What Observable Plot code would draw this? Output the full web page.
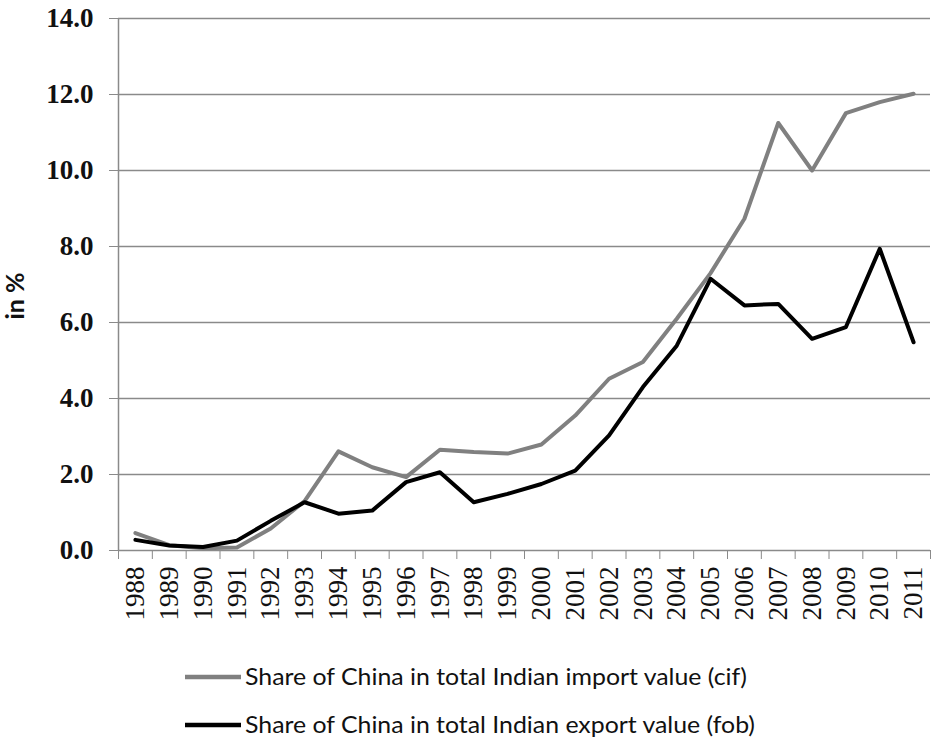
<!DOCTYPE html>
<html>
<head>
<meta charset="utf-8">
<script src="https://cdn.jsdelivr.net/npm/d3@7"></script>
<script src="https://cdn.jsdelivr.net/npm/@observablehq/plot@0.6"></script>
<style>
  html, body { margin: 0; padding: 0; background: #fff; }
  #chart { width: 931px; }
</style>
</head>
<body>
<div id="chart"></div>
<script>
const years = [1988, 1989, 1990, 1991, 1992, 1993, 1994, 1995, 1996, 1997, 1998, 1999,
               2000, 2001, 2002, 2003, 2004, 2005, 2006, 2007, 2008, 2009, 2010, 2011];
const importShare = [0.46, 0.14, 0.06, 0.08, 0.58, 1.30, 2.61, 2.19, 1.93, 2.65, 2.59, 2.55,
                     2.79, 3.55, 4.52, 4.96, 6.10, 7.30, 8.73, 11.25, 10.00, 11.51, 11.80, 12.02];
const exportShare = [0.28, 0.13, 0.09, 0.26, 0.78, 1.27, 0.97, 1.05, 1.80, 2.06, 1.27, 1.49,
                     1.75, 2.10, 3.03, 4.30, 5.39, 7.15, 6.45, 6.49, 5.57, 5.88, 7.94, 5.48];
const yTicks = [0, 2, 4, 6, 8, 10, 12, 14];
const seriesNames = ["Share of China in total Indian import value (cif)",
                     "Share of China in total Indian export value (fob)"];
const seriesColors = ["#808080", "#000000"];
const yLabel = "in %";

const importData = years.map((y, i) => ({year: y, value: importShare[i]}));
const exportData = years.map((y, i) => ({year: y, value: exportShare[i]}));
const boundaries = [...years.map(y => y - 0.5), years[years.length - 1] + 0.5];

const serif = "'Liberation Serif', 'Times New Roman', serif";
const sans = "Lato, 'Open Sans', sans-serif";

const chart = Plot.plot({
  width: 931,
  height: 640,
  marginLeft: 118,
  marginRight: 1,
  marginTop: 18,
  marginBottom: 90,
  x: {domain: [boundaries[0], boundaries[boundaries.length - 1]]},
  y: {domain: [0, 14]},
  marks: [
    Plot.gridY(yTicks, {stroke: "#8a8a8a", strokeOpacity: 1, strokeWidth: 1.5}),
    Plot.axisY(yTicks, {
      tickSize: 9, tickPadding: 16, stroke: "#8a8a8a",
      tickFormat: d => d.toFixed(1), fontSize: 27, fontFamily: serif, fontWeight: "bold",
      fill: "#111", label: null
    }),
    Plot.ruleX([boundaries[0]], {stroke: "#8a8a8a", strokeWidth: 1.5}),
    Plot.axisX(boundaries, {tickSize: 9, tickFormat: () => "", stroke: "#8a8a8a", label: null}),
    Plot.axisX(years, {
      tickSize: 0, tickPadding: 16, tickRotate: -90, tickFormat: d => String(d),
      fontSize: 27, fontFamily: serif, fill: "#111", label: null
    }),
    Plot.text([yLabel], {
      text: d => d, frameAnchor: "left", dx: -103, dy: 35, rotate: -90,
      fontSize: 25, fontWeight: "bold", fontFamily: sans, fill: "#111"
    }),
    Plot.line(importData, {x: "year", y: "value", stroke: seriesColors[0], strokeWidth: 4}),
    Plot.line(exportData, {x: "year", y: "value", stroke: seriesColors[1], strokeWidth: 4})
  ]
});
document.getElementById("chart").appendChild(chart);

// Legend below the plot
const legend = d3.select("#chart").append("svg")
  .attr("width", 931).attr("height", 98)
  .style("display", "block");
const rows = [{line: 37, base: 45, len: 502}, {line: 85, base: 93, len: 510}];
seriesNames.forEach((name, i) => {
  legend.append("line")
    .attr("x1", 185).attr("x2", 241)
    .attr("y1", rows[i].line).attr("y2", rows[i].line)
    .attr("stroke", seriesColors[i]).attr("stroke-width", 4.5);
  legend.append("text")
    .attr("x", 245).attr("y", rows[i].base)
    .attr("font-family", sans).attr("font-size", 24).attr("fill", "#111")
    .attr("textLength", rows[i].len).attr("lengthAdjust", "spacingAndGlyphs")
    .text(name);
});
</script>
</body>
</html>
